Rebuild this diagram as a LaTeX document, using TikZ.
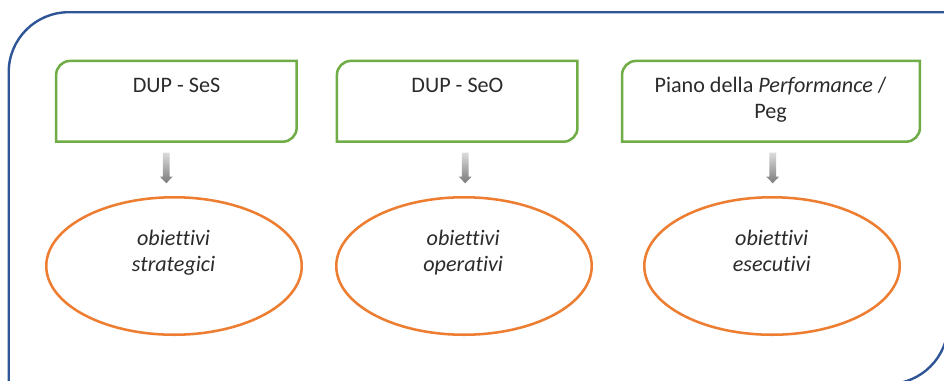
\documentclass[tikz,border=0pt]{standalone}
\usepackage{fontspec}
\setmainfont{Carlito}[Ligatures=NoCommon]
\usetikzlibrary{calc,shapes.geometric}
\definecolor{frameblue}{HTML}{2F5597}
\definecolor{boxgreen}{HTML}{70AD47}
\definecolor{ellorange}{HTML}{ED7D31}
\definecolor{txt}{HTML}{2B2B2B}
\definecolor{arrtop}{HTML}{DCDCDC}
\definecolor{arrbot}{HTML}{7A7A7A}
\tikzset{
  frameline/.style={draw=frameblue, line width=1.8pt},
  boxnode/.style={rectangle, draw=none, inner sep=0pt, minimum height=60.2pt},
  boxline/.style={draw=boxgreen, line width=1.9pt},
  ellnode/.style={ellipse, draw=ellorange, line width=1.9pt, inner sep=0pt,
                  minimum width=191.6pt, minimum height=103.1pt},
  lbl/.style={text=txt, inner sep=0pt, font=\fontsize{16.6pt}{20pt}\selectfont},
  arrowshade/.style={top color=arrtop, bottom color=arrbot, draw=none}
}
\newcommand\drawdiagbox[1]{%
  \draw[boxline] (#1.south west) -- ($(#1.north west)+(0,-10.5pt)$)
    arc[start angle=180,end angle=90,radius=10.5pt] -- (#1.north east)
    -- ($(#1.south east)+(0,10.5pt)$)
    arc[start angle=0,end angle=-90,radius=10.5pt] -- cycle;}
\newcommand\blockarrow[1]{%
  \path[arrowshade] ($(#1)+(-3.4,0)$) -- ($(#1)+(3.4,0)$) -- ($(#1)+(3.4,-24)$)
    -- ($(#1)+(6.5,-24)$) -- ($(#1)+(0,-30.8)$) -- ($(#1)+(-6.5,-24)$)
    -- ($(#1)+(-3.4,-24)$) -- cycle;}
\begin{document}
\begin{tikzpicture}[x=0.75pt,y=0.75pt]
\useasboundingbox (0,0) rectangle (944,380);
\clip (0,0) rectangle (944,380);
\fill[white] (0,0) rectangle (944,380);
% outer frame
\draw[frameline] (8.7,-4) -- (8.7,307.8) arc[start angle=180,end angle=90,radius=45pt]
  -- (948,367.8) -- (948,56) arc[start angle=0,end angle=-90,radius=45pt] -- cycle;
% boxes
\node[boxnode, minimum width=180pt] (b1) at (176.4,278.7) {};
\node[boxnode, minimum width=180pt] (b2) at (457.2,278.7) {};
\node[boxnode, minimum width=223pt] (b3) at (771,278.7) {};
\drawdiagbox{b1}
\drawdiagbox{b2}
\drawdiagbox{b3}
\node[lbl, anchor=base] (t1) at (176.5,288) {DUP - SeS};
\node[lbl, anchor=base] (t2) at (457.4,288) {DUP - SeO};
\node[lbl, anchor=base] (t3a) at (770.5,288) {Piano della \textit{Performance} /};
\node[lbl, anchor=base] (t3b) at (770.5,261.5) {Peg};
% ellipses
\node[ellnode] (e1) at (174,114) {};
\node[ellnode] (e2) at (464,114) {};
\node[ellnode] (e3) at (772,114) {};
\node[lbl, anchor=base] (e1a) at (173.6,135) {\textit{obiettivi}};
\node[lbl, anchor=base] (e1b) at (173.6,108.5) {\textit{strategici}};
\node[lbl, anchor=base] (e2a) at (463.2,135) {\textit{obiettivi}};
\node[lbl, anchor=base] (e2b) at (463.2,108.5) {\textit{operativi}};
\node[lbl, anchor=base] (e3a) at (771.7,135) {\textit{obiettivi}};
\node[lbl, anchor=base] (e3b) at (771.7,108.5) {\textit{esecutivi}};
% arrows
\coordinate (a1) at (166.3,227.5);
\coordinate (a2) at (465.2,227.5);
\coordinate (a3) at (772.7,227.5);
\blockarrow{a1}
\blockarrow{a2}
\blockarrow{a3}
\end{tikzpicture}
\end{document}
